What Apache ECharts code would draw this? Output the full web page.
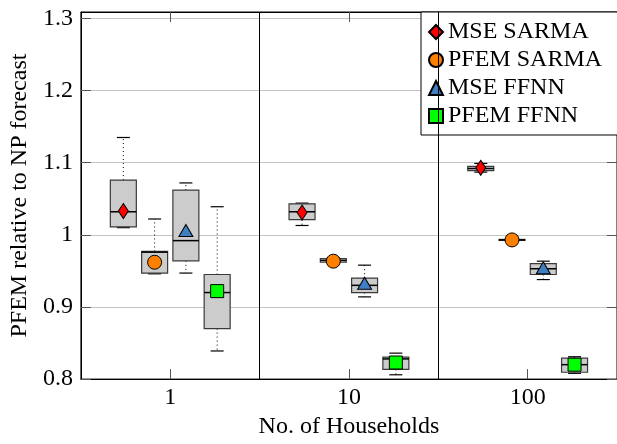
<!DOCTYPE html>
<html>
<head>
<meta charset="utf-8">
<script src="https://cdn.jsdelivr.net/npm/echarts@6/dist/echarts.min.js"></script>
<style>
  html, body { margin: 0; padding: 0; background: #fff; }
  #chart { width: 617px; height: 444px; }
</style>
</head>
<body>
<div id="chart"></div>
<script>
// Number of households per group (plotted on a log10 axis)
const households = [1, 10, 100];
const yTicks = [0.8, 0.9, 1.0, 1.1, 1.2, 1.3];

// MSE SARMA
const mseSarmaLow  = [1.010, 1.013, 1.087];
const mseSarmaQ1   = [1.011, 1.021, 1.089];
const mseSarmaMed  = [1.032, 1.032, 1.092];
const mseSarmaQ3   = [1.076, 1.043, 1.095];
const mseSarmaHigh = [1.135, 1.044, 1.099];
const mseSarmaMean = [1.033, 1.031, 1.093];

// PFEM SARMA
const pfemSarmaLow  = [0.946, 0.961, 0.9920];
const pfemSarmaQ1   = [0.947, 0.962, 0.9923];
const pfemSarmaMed  = [0.976, 0.9645, 0.9930];
const pfemSarmaQ3   = [0.977, 0.967, 0.9937];
const pfemSarmaHigh = [1.022, 0.968, 0.9940];
const pfemSarmaMean = [0.962, 0.9635, 0.993];

// MSE FFNN
const mseFfnnLow  = [0.947, 0.914, 0.938];
const mseFfnnQ1   = [0.964, 0.920, 0.945];
const mseFfnnMed  = [0.992, 0.930, 0.953];
const mseFfnnQ3   = [1.062, 0.940, 0.960];
const mseFfnnHigh = [1.072, 0.958, 0.9635];
const mseFfnnMean = [1.006, 0.933, 0.9545];

// PFEM FFNN
const pfemFfnnLow  = [0.839, 0.806, 0.808];
const pfemFfnnQ1   = [0.870, 0.8135, 0.8095];
const pfemFfnnMed  = [0.920, 0.828, 0.820];
const pfemFfnnQ3   = [0.945, 0.8305, 0.829];
const pfemFfnnHigh = [1.039, 0.836, 0.831];
const pfemFfnnMean = [0.922, 0.823, 0.820];

const FONT = '"Liberation Serif", "DejaVu Serif", serif';
const FS = 24;

const models = [
  { name: 'MSE SARMA',  offset: -0.2625, low: mseSarmaLow,  q1: mseSarmaQ1,  med: mseSarmaMed,  q3: mseSarmaQ3,  high: mseSarmaHigh,  mean: mseSarmaMean,
    symbol: 'diamond',  size: [10, 15], color: '#ff0000' },
  { name: 'PFEM SARMA', offset: -0.0875, low: pfemSarmaLow, q1: pfemSarmaQ1, med: pfemSarmaMed, q3: pfemSarmaQ3, high: pfemSarmaHigh, mean: pfemSarmaMean,
    symbol: 'circle',   size: 14,       color: '#ff8000' },
  { name: 'MSE FFNN',   offset:  0.0875, low: mseFfnnLow,   q1: mseFfnnQ1,   med: mseFfnnMed,   q3: mseFfnnQ3,   high: mseFfnnHigh,   mean: mseFfnnMean,
    symbol: 'triangle', size: [14, 12], color: '#3f7fc4' },
  { name: 'PFEM FFNN',  offset:  0.2625, low: pfemFfnnLow,  q1: pfemFfnnQ1,  med: pfemFfnnMed,  q3: pfemFfnnQ3,  high: pfemFfnnHigh,  mean: pfemFfnnMean,
    symbol: 'rect',     size: 13,       color: '#00ff00' }
];

const BOX_HALF = 13;
const CAP_HALF = 6.5;

function renderBox(params, api) {
  const x = api.value(0);
  const pLow = api.coord([x, api.value(1)]);
  const pQ1 = api.coord([x, api.value(2)]);
  const pMed = api.coord([x, api.value(3)]);
  const pQ3 = api.coord([x, api.value(4)]);
  const pHigh = api.coord([x, api.value(5)]);
  const cx = pLow[0];
  const dotted = { stroke: '#000', lineWidth: 1, lineDash: [1, 3] };
  const solid = { stroke: '#000', lineWidth: 1.2 };
  return {
    type: 'group',
    children: [
      { type: 'line', shape: { x1: cx, y1: pQ3[1], x2: cx, y2: pHigh[1] }, style: dotted },
      { type: 'line', shape: { x1: cx, y1: pQ1[1], x2: cx, y2: pLow[1] }, style: dotted },
      { type: 'line', shape: { x1: cx - CAP_HALF, y1: pHigh[1], x2: cx + CAP_HALF, y2: pHigh[1] }, style: solid },
      { type: 'line', shape: { x1: cx - CAP_HALF, y1: pLow[1], x2: cx + CAP_HALF, y2: pLow[1] }, style: solid },
      { type: 'rect', shape: { x: cx - BOX_HALF, y: pQ3[1], width: 2 * BOX_HALF, height: Math.max(pQ1[1] - pQ3[1], 1) },
        style: { fill: '#cccccc', stroke: '#3a3a3a', lineWidth: 1.2 } },
      { type: 'line', shape: { x1: cx - BOX_HALF, y1: pMed[1], x2: cx + BOX_HALF, y2: pMed[1] },
        style: { stroke: '#000', lineWidth: 1.5 } }
    ]
  };
}

const series = [];
models.forEach((m, k) => {
  series.push({
    type: 'custom',
    id: 'box' + k,
    renderItem: renderBox,
    encode: { x: 0, y: [1, 2, 3, 4, 5] },
    data: households.map((g, i) => [Math.log10(g) + m.offset, m.low[i], m.q1[i], m.med[i], m.q3[i], m.high[i]]),
    z: 2,
    silent: true,
    markLine: k === 0 ? {
      silent: true, symbol: 'none', label: { show: false },
      lineStyle: { color: '#000', type: 'solid', width: 1 },
      data: [{ xAxis: 0.5 }, { xAxis: 1.5 }]
    } : undefined
  });
});
models.forEach((m) => {
  series.push({
    type: 'scatter',
    name: m.name,
    symbol: m.symbol,
    symbolSize: m.size,
    itemStyle: { color: m.color, borderColor: '#000', borderWidth: 1, opacity: 1 },
    data: households.map((g, i) => [Math.log10(g) + m.offset, m.mean[i]]),
    z: 5
  });
});

const yMin = yTicks[0];
const yMax = 1.309;

const tickStyle = { show: true, inside: true, length: 10, lineStyle: { color: '#555' } };
const lineStyle = { show: true, onZero: false, lineStyle: { color: '#000', width: 1 } };

const chart = echarts.init(document.getElementById('chart'), null, { renderer: 'canvas' });
chart.setOption({
  animation: false,
  backgroundColor: '#fff',
  grid: { left: 79, right: -4, top: 12, bottom: 55, show: true, borderColor: '#000', borderWidth: 1, backgroundColor: 'transparent' },
  legend: {
    data: models.map(m => m.name),
    orient: 'vertical',
    left: 421, top: 12,
    padding: [8, 40, 7, 7],
    itemWidth: 14, itemHeight: 14, itemGap: 4,
    backgroundColor: '#fff',
    borderColor: '#000', borderWidth: 1, borderRadius: 0,
    textStyle: { fontFamily: FONT, fontSize: FS, color: '#000' },
    selectedMode: false
  },
  xAxis: [{
    type: 'value', min: -0.5, max: 2.5,
    name: 'No. of Households', nameLocation: 'middle', nameGap: 30,
    nameTextStyle: { fontFamily: FONT, fontSize: FS, color: '#000' },
    axisLine: lineStyle,
    axisTick: Object.assign({ customValues: [0, 1, 2] }, tickStyle),
    axisLabel: { customValues: [0, 1, 2], margin: 7, fontFamily: FONT, fontSize: FS, color: '#000',
      formatter: v => String(Math.round(Math.pow(10, v))) },
    splitLine: { show: false }
  }, {
    type: 'value', min: -0.5, max: 2.5, position: 'top',
    axisLine: lineStyle,
    axisTick: Object.assign({ customValues: [0, 1, 2] }, tickStyle),
    axisLabel: { show: false },
    splitLine: { show: false }
  }],
  yAxis: [{
    type: 'value', min: yMin, max: yMax, interval: 0.1,
    name: 'PFEM relative to NP forecast', nameLocation: 'middle', nameGap: 46,
    nameTextStyle: { fontFamily: FONT, fontSize: FS, color: '#000' },
    axisLine: lineStyle,
    axisTick: tickStyle,
    axisLabel: { margin: 8, fontFamily: FONT, fontSize: FS, color: '#000', showMaxLabel: false,
      formatter: v => String(+v.toFixed(1)) },
    splitLine: { show: true, lineStyle: { color: '#c4c4c4', width: 1 } }
  }, {
    type: 'value', min: yMin, max: yMax, interval: 0.1, position: 'right',
    axisLine: lineStyle,
    axisTick: tickStyle,
    axisLabel: { show: false },
    splitLine: { show: false }
  }],
  series: series
});
</script>
</body>
</html>
